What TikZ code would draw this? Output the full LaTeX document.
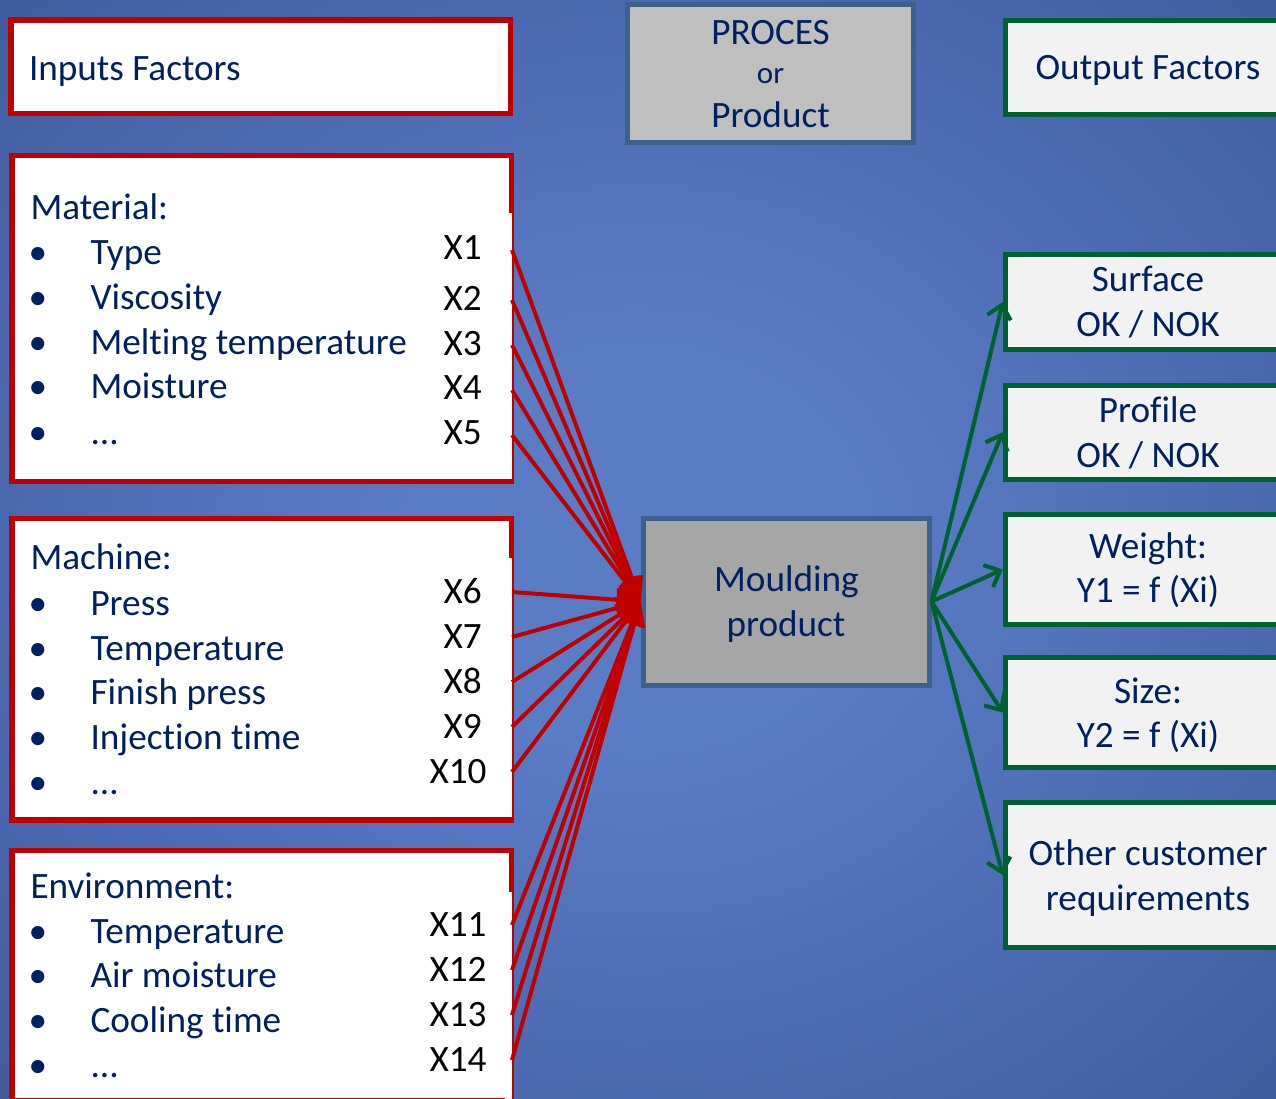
\documentclass[tikz,border=0pt]{standalone}
\usepackage{fontspec}
\setmainfont{Carlito}[Ligatures=NoCommon]
\usetikzlibrary{arrows.meta,calc}
\definecolor{navy}{RGB}{0,32,96}
\definecolor{redb}{RGB}{192,0,0}
\definecolor{greenb}{RGB}{0,97,48}
\definecolor{steel}{RGB}{62,96,140}
\definecolor{grayA}{RGB}{166,166,166}
\definecolor{grayB}{RGB}{191,191,191}
\definecolor{outfill}{RGB}{242,242,242}
\definecolor{bgin}{RGB}{90,124,197}
\definecolor{bgq}{RGB}{78,108,180}
\definecolor{bgmid}{RGB}{62,90,156}
\definecolor{bgout}{RGB}{46,70,128}
\definecolor{bgcorner}{RGB}{38,60,112}
\pgfdeclareradialshading{bgshade}{\pgfpoint{0bp}{0bp}}{color(0bp)=(bgin); color(9bp)=(bgin); color(22bp)=(bgq); color(38bp)=(bgmid); color(52bp)=(bgout); color(71bp)=(bgcorner)}
\newcommand\mydots{...}
\begin{document}
\begin{tikzpicture}[x=1pt,y=-1pt,
  bigfont/.style={font=\fontsize{37.2}{45}\selectfont},
  txt/.style={bigfont, text=navy, inner sep=0pt, outer sep=0pt},
  xlab/.style={bigfont, text=black, inner sep=0pt, outer sep=0pt, anchor=base west},
  inbox/.style={draw=redb, line width=5.5pt, fill=white, rectangle, inner sep=0pt, minimum width=499.5pt},
  outbox/.style={draw=greenb, line width=5pt, fill=outfill, rectangle, inner sep=0pt, minimum width=285.5pt},
  procbox/.style={draw=steel, line width=5pt, rectangle, inner sep=0pt, minimum width=286pt},
  rarrow/.style={draw=redb, line width=4pt, -{Triangle[length=24pt,width=22pt]}},
  garrow/.style={draw=greenb, line width=4pt, -{Straight Barb[length=13pt,width=24pt]}},
  patch/.style={fill=white, draw=none}
]
\useasboundingbox (0,0) rectangle (1276,1098);
\clip (0,0) rectangle (1276,1098);
\shade[shading=bgshade] (0,0) rectangle (1276,1098);

% ---------- input boxes ----------
\node[inbox, minimum height=93.5pt] (inp) at (260.75,66.75) {};
\node[inbox, minimum height=326pt] (mat) at (261.75,318.5) {};
\node[inbox, minimum height=301.5pt] (mac) at (261.75,669.25) {};
\node[inbox, minimum height=250.5pt] (env) at (261.75,975.75) {};
\fill[patch] (505,213) rectangle (511.6,478.5);
\fill[patch] (505,558) rectangle (511.6,817);
\fill[patch] (505,892) rectangle (511.6,1100);

\node[txt, anchor=base west] (tinp) at (29,80) {Inputs Factors};

% Material
\node[txt, anchor=base west] (tmat) at (30.5,219) {Material:};
\foreach \t/\yb [count=\i] in {Type/264, Viscosity/309, Melting temperature/354, Moisture/398.5, \mydots/444}{
  \node[txt, anchor=base] (mb\i) at (38,\yb) {•};
  \node[txt, anchor=base west] (mi\i) at (90.5,\yb) {\t};
}
\foreach \l/\yb [count=\i] in {X1/259.5, X2/310.5, X3/355.5, X4/399.5, X5/444.5}{
  \node[xlab] (xl\l) at (443.5,\yb) {\l};
}
% Machine
\node[txt, anchor=base west] (tmac) at (30.5,569.5) {Machine:};
\foreach \t/\yb [count=\i] in {Press/615.5, Temperature/660, Finish press/704.5, Injection time/749.5, \mydots/794.5}{
  \node[txt, anchor=base] (cb\i) at (38,\yb) {•};
  \node[txt, anchor=base west] (ci\i) at (90.5,\yb) {\t};
}
\foreach \l/\yb [count=\i] in {X6/603.5, X7/648.5, X8/693, X9/738}{
  \node[xlab] (xl\l) at (443.5,\yb) {\l};
}
\node[xlab] (xlX10) at (429.5,783.5) {X10};
% Environment
\node[txt, anchor=base west] (tenv) at (30.5,898.5) {Environment:};
\foreach \t/\yb [count=\i] in {Temperature/943.5, Air moisture/987.5, Cooling time/1032.5, \mydots/1077.5}{
  \node[txt, anchor=base] (eb\i) at (38,\yb) {•};
  \node[txt, anchor=base west] (ei\i) at (90.5,\yb) {\t};
}
\foreach \l/\yb [count=\i] in {X11/936.5, X12/981.5, X13/1026.5, X14/1071.5}{
  \node[xlab] (xl\l) at (429.5,\yb) {\l};
}

% ---------- centre ----------
\node[procbox, fill=grayB, minimum height=138pt] (proc) at (770.5,73) {};
\node[txt, anchor=base] (tp1) at (770.5,44.5) {PROCES};
\node[txt, anchor=base, font=\fontsize{31}{38}\selectfont] (tp2) at (770.5,83) {or};
\node[txt, anchor=base] (tp3) at (770.5,127.5) {Product};

\node[procbox, fill=grayA, minimum height=167pt] (mp) at (786,601.5) {};
\node[txt, anchor=base] (tm1) at (786.5,591.5) {Moulding};
\node[txt, anchor=base] (tm2) at (786,636) {product};

% ---------- output boxes ----------
\node[outbox, minimum height=94pt] (outf) at (1148,67) {};
\node[txt, anchor=base] (to) at (1148,79.5) {Output Factors};
\node[outbox, minimum height=95pt] (o1) at (1148,302) {};
\node[txt, anchor=base] at (1148,291.5) {Surface};
\node[txt, anchor=base] at (1148,336.5) {OK / NOK};
\node[outbox, minimum height=94.5pt] (o2) at (1148,432.25) {};
\node[txt, anchor=base] at (1148,422.5) {Profile};
\node[txt, anchor=base] at (1148,467) {OK / NOK};
\node[outbox, minimum height=110pt] (o3) at (1148,569.5) {};
\node[txt, anchor=base] at (1148,558) {Weight:};
\node[txt, anchor=base] at (1148,602.5) {Y1 = f (Xi)};
\node[outbox, minimum height=110pt] (o4) at (1148,712.5) {};
\node[txt, anchor=base] at (1148,703) {Size:};
\node[txt, anchor=base] at (1148,747) {Y2 = f (Xi)};
\node[outbox, minimum height=145pt] (o5) at (1148,875) {};
\node[txt, anchor=base] at (1148,865) {Other customer};
\node[txt, anchor=base] at (1148,910) {requirements};

% ---------- red connectors ----------
\foreach \n/\yy in {1/250, 2/300, 3/345, 4/390, 5/435, 6/592, 7/637, 8/682, 9/727, 10/772, 11/925, 12/970, 13/1015, 14/1060}{
  \coordinate (s\n) at (512,\yy);
  \draw[rarrow] (s\n) -- (mp.west);
}
% ---------- green connectors ----------
\foreach \o in {o1,o2,o3,o4,o5}{
  \draw[garrow] (mp.east) -- (\o.west);
}
\end{tikzpicture}
\end{document}
